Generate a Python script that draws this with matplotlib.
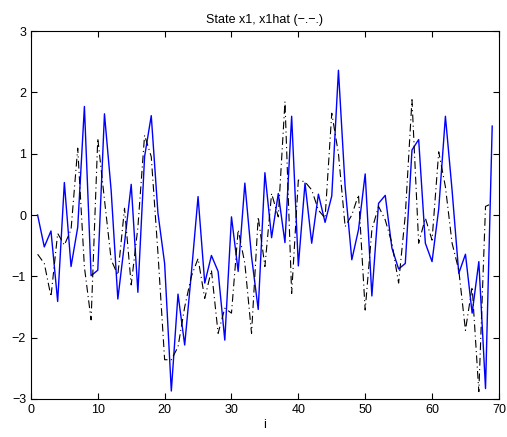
import numpy as np
import matplotlib as mpl
mpl.use('Agg')
import matplotlib.pyplot as plt

plt.rcParams['font.family'] = ['Liberation Sans', 'DejaVu Sans']
plt.rcParams['font.size'] = 9

# sample index
i = np.arange(1, 70)

# state x1 (solid blue)
x1 = [0.0, -0.52, -0.26, -1.41, 0.53, -0.84, -0.2, 1.77, -0.99, -0.90,
      1.65, 0.4, -1.37, -0.46, 0.50, -1.26, 0.95, 1.62, 0.03, -0.79,
      -2.87, -1.29, -2.12, -0.95, 0.30, -1.11, -0.66, -0.92, -2.04, -0.03,
      -0.92, 0.52, -0.68, -1.54, 0.69, -0.37, 0.35, -0.45, 1.61, -0.83,
      0.52, -0.46, 0.34, -0.12, 0.31, 2.36, 0.46, -0.73, -0.24, 0.67,
      -1.32, 0.19, 0.32, -0.54, -0.88, -0.79, 1.06, 1.23, -0.46, -0.76,
      0.1, 1.61, 0.4, -0.95, -0.64, -1.60, -0.76, -2.83, 1.45]

# estimate x1hat (black dash-dot)
x1hat = [-0.64, -0.79, -1.33, -0.30, -0.49, -0.24, 1.09, -0.85, -1.71, 1.25,
         0.25, -0.73, -0.98, 0.11, -1.14, -0.2, 1.30, 0.95, -0.62, -2.36,
         -2.36, -2.15, -1.50, -1.00, -0.71, -1.36, -0.90, -1.93, -1.52, -1.60,
         -0.24, -0.79, -1.93, -0.03, -0.84, 0.35, -0.03, 1.85, -1.28, 0.57,
         0.54, 0.41, 0.08, -0.05, 1.66, 1.0, -0.19, 0.0, 0.33, -1.55,
         -0.24, 0.14, -0.08, -0.46, -1.11, 0.0, 1.88, -0.46, -0.05, -0.41,
         1.03, 0.46, -0.46, -0.90, -1.88, -1.17, -2.88, 0.14, 0.19]

fig = plt.figure(figsize=(5.07, 4.37), dpi=100)
ax = fig.add_axes([0.061, 0.087, 0.923, 0.842])

ax.plot(i, x1, color='b', lw=1.0)
ax.plot(i, x1hat, color='k', lw=0.8, ls='-.', dashes=(7, 3, 1, 3))

ax.set_xlim(0, 70)
ax.set_ylim(-3, 3)
ax.set_xticks(np.arange(0, 71, 10))
ax.set_yticks(np.arange(-3, 4, 1))
ax.tick_params(direction='in', top=True, right=True, length=4, labelsize=9)
ax.set_xlabel('i', labelpad=2)
ax.set_title('State x1, x1hat (\u2212.\u2212.)', fontsize=9)

fig.savefig('out.png', dpi=100)
